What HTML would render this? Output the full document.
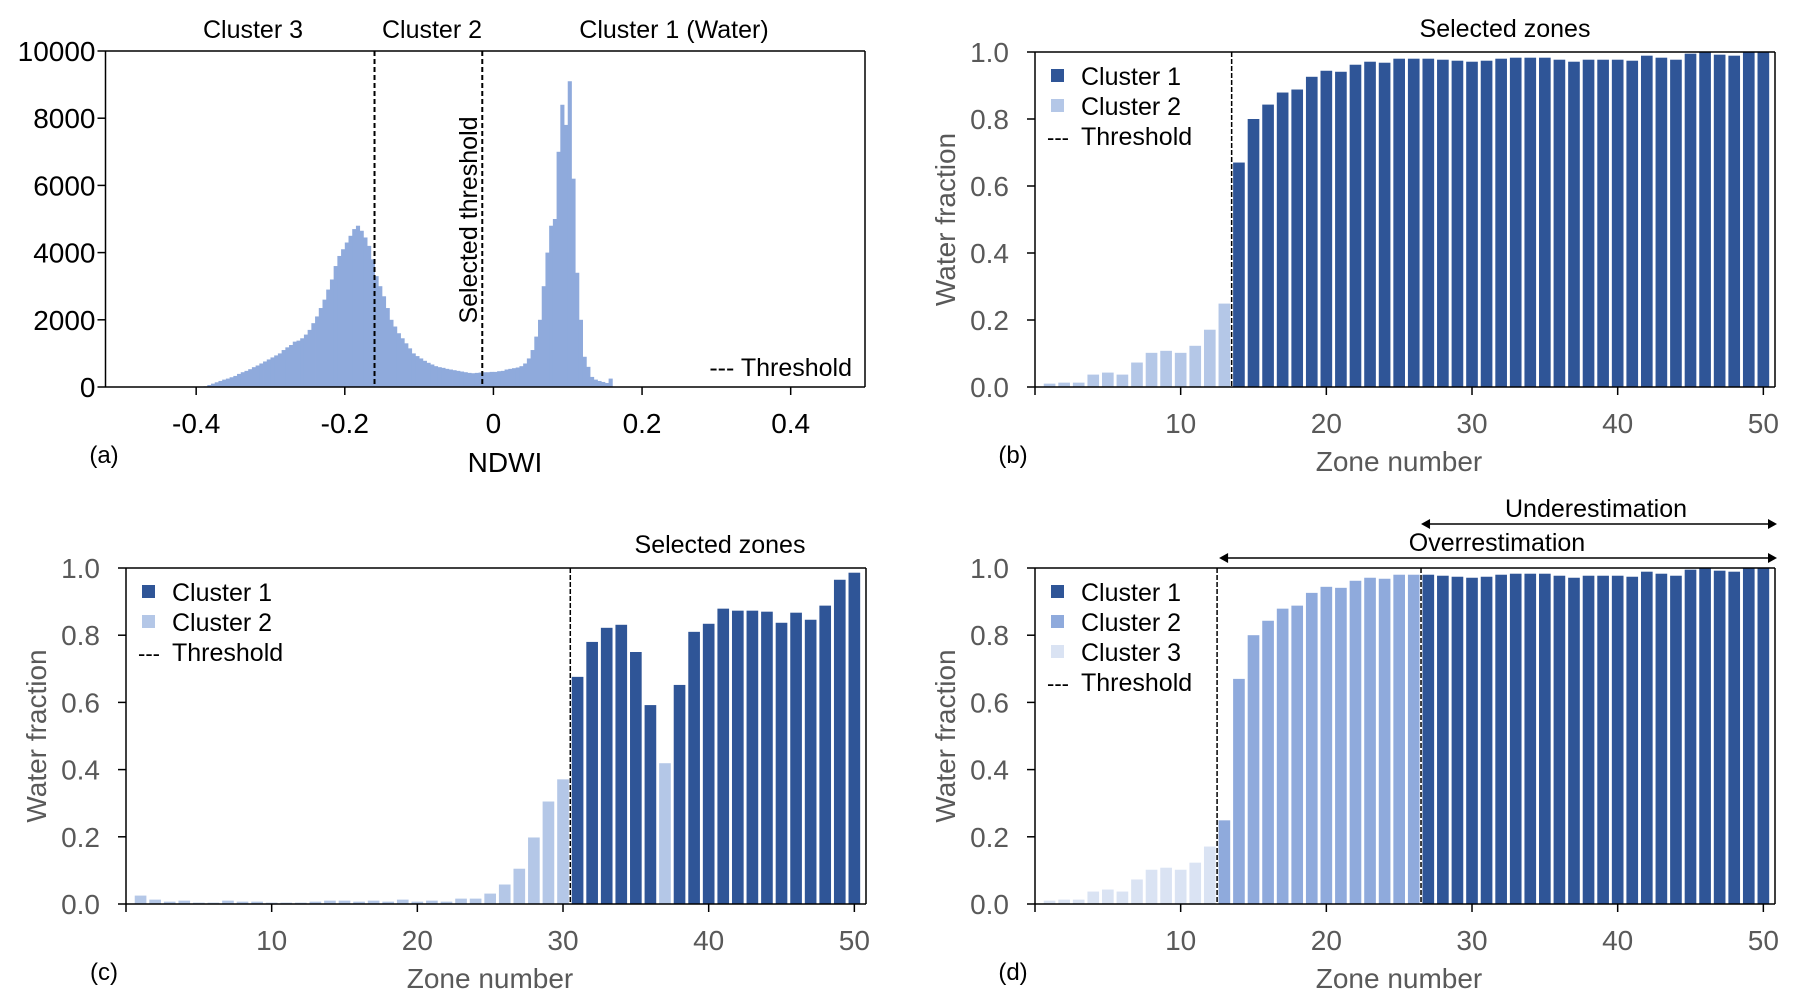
<!DOCTYPE html>
<html><head><meta charset="utf-8">
<style>
html,body{margin:0;padding:0;background:#fff;}
svg{display:block;font-family:"Liberation Sans",Arial,sans-serif;}
</style></head>
<body>
<svg id="fig" width="1798" height="1006" viewBox="0 0 1798 1006"></svg>
<script>
// ---------- data ----------
const histBinStart = -0.39;
const histBinWidth = 0.005;
const histCounts = [20,60,100,140,180,220,250,290,330,390,440,480,530,590,640,700,760,820,880,940,
1000,1100,1180,1250,1350,1380,1450,1560,1700,1900,2100,2350,2600,2900,3200,3600,3900,4100,4300,4500,
4700,4800,4650,4450,4200,3800,3300,3000,2700,2350,2000,1800,1600,1450,1300,1150,1000,920,850,780,
720,670,620,590,570,540,520,500,480,460,440,420,410,420,430,440,440,450,450,470,
480,520,540,560,580,620,700,850,1100,1500,2000,3000,4000,4800,5000,7000,8400,7800,9100,6200,
3400,2000,900,600,300,220,180,150,120,250];
const histXTicks = [-0.4,-0.2,0,0.2,0.4];
const histXTickLabels = ["-0.4","-0.2","0","0.2","0.4"];
const histYTicks = [0,2000,4000,6000,8000,10000];
const histThresholds = [-0.16,-0.015];

const zones = Array.from({length:50},(_,i)=>i+1);
const fracB = [0.01,0.013,0.013,0.037,0.043,0.037,0.073,0.102,0.108,0.102,0.123,0.171,0.249,0.67,0.80,0.843,0.879,0.888,0.926,0.944,
0.941,0.962,0.971,0.968,0.98,0.98,0.98,0.977,0.974,0.971,0.974,0.98,0.983,0.983,0.983,0.977,0.971,0.977,0.977,0.977,
0.974,0.989,0.983,0.977,0.995,1.0,0.992,0.989,1.0,1.0];
const clusterB = [2,2,2,2,2,2,2,2,2,2,2,2,2,1,1,1,1,1,1,1,1,1,1,1,1,1,1,1,1,1,1,1,1,1,1,1,1,1,1,1,1,1,1,1,1,1,1,1,1,1];
const fracC = [0.025,0.013,0.007,0.01,0.004,0.004,0.01,0.007,0.007,0.004,0.004,0.004,0.007,0.01,0.01,0.007,0.01,0.007,0.013,0.007,
0.01,0.007,0.016,0.016,0.031,0.058,0.105,0.198,0.305,0.371,0.676,0.78,0.822,0.831,0.75,0.592,0.419,0.652,0.81,0.834,
0.879,0.873,0.873,0.87,0.837,0.867,0.846,0.888,0.965,0.986];
const clusterC = [2,2,2,2,2,2,2,2,2,2,2,2,2,2,2,2,2,2,2,2,2,2,2,2,2,2,2,2,2,2,1,1,1,1,1,1,2,1,1,1,1,1,1,1,1,1,1,1,1,1];
const fracD = fracB;
const clusterD = [3,3,3,3,3,3,3,3,3,3,3,3,2,2,2,2,2,2,2,2,2,2,2,2,2,2,1,1,1,1,1,1,1,1,1,1,1,1,1,1,1,1,1,1,1,1,1,1,1,1];
const zoneTicks = [10,20,30,40,50];
const fracTicks = [0,0.2,0.4,0.6,0.8,1.0];
const thrB = [13.5], thrC = [30.5], thrD = [12.5,26.5];

// ---------- helpers ----------
const NS="http://www.w3.org/2000/svg";
const svg=document.getElementById('fig');
function mk(tag,attrs,parent){const e=document.createElementNS(NS,tag);for(const k in attrs)e.setAttribute(k,attrs[k]);(parent||svg).appendChild(e);return e;}
function txt(s,x,y,size,fill,anchor,parent,extra){const t=mk('text',Object.assign({x:x,y:y,'font-size':size,fill:fill,'text-anchor':anchor||'middle'},extra||{}),parent);t.textContent=s;return t;}

const C1="#2F5597", C2light="#B4C7E7", C2mid="#8FAADC", C3="#DAE3F3", GRAY="#595959";

function panelFrame(g,L,R,T,B){
  mk('line',{x1:L,y1:T,x2:R,y2:T,stroke:'#000','stroke-width':1.5},g);
  mk('line',{x1:R,y1:T,x2:R,y2:B,stroke:'#000','stroke-width':1.5},g);
  mk('line',{x1:L,y1:T,x2:L,y2:B,stroke:'#000','stroke-width':1.5},g);
  mk('line',{x1:L,y1:B,x2:R,y2:B,stroke:'#000','stroke-width':1.5},g);
}

// ---------- panel a ----------
(function(){
  const g=mk('g',{});
  
  
  const L=105.5,R=865,T=51,B=387, x0=-0.522,x1=0.5, ymax=10000;
  const X=v=>L+(v-x0)/(x1-x0)*(R-L), Y=v=>B-v/ymax*(B-T);
  histCounts.forEach((c,i)=>{
    const a=histBinStart+i*histBinWidth;
    const r=mk('rect',{x:X(a),y:Y(c),width:X(a+histBinWidth)-X(a)+0.4,height:B-Y(c),fill:C2mid},g);
    
    
  });
  panelFrame(g,L,R,T,B);
  histYTicks.forEach(v=>{
    mk('line',{x1:L-8,y1:Y(v),x2:L,y2:Y(v),stroke:'#000','stroke-width':1.5},g);
    const t=txt(String(v),L-10,Y(v)+10,28,'#000','end',g);
    
    
  });
  histXTicks.forEach((v,i)=>{
    mk('line',{x1:X(v),y1:B,x2:X(v),y2:B+8,stroke:'#000','stroke-width':1.5},g);
    const t=txt(histXTickLabels[i],X(v),B+46,28,'#000','middle',g);
    
    
  });
  histThresholds.forEach(v=>{
    const l=mk('line',{x1:X(v),y1:T,x2:X(v),y2:B,stroke:'#000','stroke-width':2,'stroke-dasharray':'5,3'},g);
    
    
  });
  let t=txt('Cluster 3',253,38,25,'#000','middle',g);
  t=txt('Cluster 2',432,38,25,'#000','middle',g);
  t=txt('Cluster 1 (Water)',674,38,25,'#000','middle',g);
  t=txt('Selected threshold',0,0,25,'#000','middle',g,{transform:'translate(477,220) rotate(-90)'});
  t=txt('--- Threshold',852,376,25,'#000','end',g);
  t=txt('(a)',104,463,24,'#000','middle',g);
  t=txt('NDWI',505,472,28,'#000','middle',g);
})();

// ---------- bar panels ----------
function barPanel(id,L,R,T,B,frac,clus,colors,thr,opts){
  const g=mk('g',{});
  
  
  const zmax=50.8;
  const X=v=>L+v/zmax*(R-L), Y=v=>B-v*(B-T);
  zones.forEach((z,i)=>{
    const r=mk('rect',{x:X(z-0.4),y:Y(frac[i]),width:X(0.8)-X(0),height:B-Y(frac[i]),fill:colors[clus[i]]},g);
    
    
  });
  panelFrame(g,L,R,T,B);
  fracTicks.forEach(v=>{
    mk('line',{x1:L-8,y1:Y(v),x2:L,y2:Y(v),stroke:'#000','stroke-width':1.5},g);
    const t=txt(v.toFixed(1),L-26,Y(v)+10,28,GRAY,'end',g);
    
    
  });
  mk('line',{x1:L,y1:B,x2:L,y2:B+8,stroke:'#000','stroke-width':1.5},g);
  zoneTicks.forEach(v=>{
    mk('line',{x1:X(v),y1:B,x2:X(v),y2:B+8,stroke:'#000','stroke-width':1.5},g);
    const t=txt(String(v),X(v),B+46,28,GRAY,'middle',g);
    
    
  });
  thr.forEach(v=>{
    const l=mk('line',{x1:X(v),y1:T,x2:X(v),y2:B,stroke:'#000','stroke-width':1.5,'stroke-dasharray':'5,2'},g);
    
    
  });
  const lx=L+16, ly=T+24;
  opts.legend.forEach((it,i)=>{
    const y=ly+i*30;
    if(it[1]){
      const s=mk('rect',{x:lx,y:y-7,width:13,height:13,fill:it[1]},g);
      
      
    } else {
      txt('---',lx+7,y+9,22,'#000','middle',g);
    }
    const t=txt(it[0],lx+30,y+9,25,'#000','start',g);
    
    
  });
  let t=txt('Water fraction',0,0,28,GRAY,'middle',g,{transform:'translate('+(L-80)+','+((T+B)/2)+') rotate(-90)'});
  
  t=txt('Zone number',(L+R)/2-6,B+84,28,GRAY,'middle',g);
  
  t=txt(opts.label,L-22,B+76,24,'#000','middle',g);
  
  if(opts.sel){t=txt('Selected zones',opts.sel,T-15,25,'#000','middle',g);}
  return {g,X,Y};
}

barPanel('panel-b-bars',1035,1775,52,387,fracB,clusterB,{1:C1,2:C2light},thrB,
  {legend:[['Cluster 1',C1],['Cluster 2',C2light],['Threshold',null]],label:'(b)',sel:1505});
barPanel('panel-c-bars',126,866,568,904,fracC,clusterC,{1:C1,2:C2light},thrC,
  {legend:[['Cluster 1',C1],['Cluster 2',C2light],['Threshold',null]],label:'(c)',sel:720});
const pd=barPanel('panel-d-bars',1035,1775,568,904,fracD,clusterD,{1:C1,2:C2mid,3:C3},thrD,
  {legend:[['Cluster 1',C1],['Cluster 2',C2mid],['Cluster 3',C3],['Threshold',null]],label:'(d)'});

(function(){
  const g=pd.g;
  function arrow(x1,x2,y,name,label,ly,lx){
    mk('line',{x1:x1+6,y1:y,x2:x2-6,y2:y,stroke:'#000','stroke-width':1.5},g);
    mk('polygon',{points:(x1)+','+y+' '+(x1+9)+','+(y-5)+' '+(x1+9)+','+(y+5),fill:'#000'},g);
    mk('polygon',{points:(x2)+','+y+' '+(x2-9)+','+(y-5)+' '+(x2-9)+','+(y+5),fill:'#000'},g);
    const t=txt(label,lx,ly,25,'#000','middle',g);
    
    
  }
  arrow(pd.X(thrD[0])+2,1777,558,'overestimation-label','Overrestimation',551,1497);
  arrow(pd.X(thrD[1]),1777,524,'underestimation-label','Underestimation',517,1596);
})();
</script>
</body></html>
